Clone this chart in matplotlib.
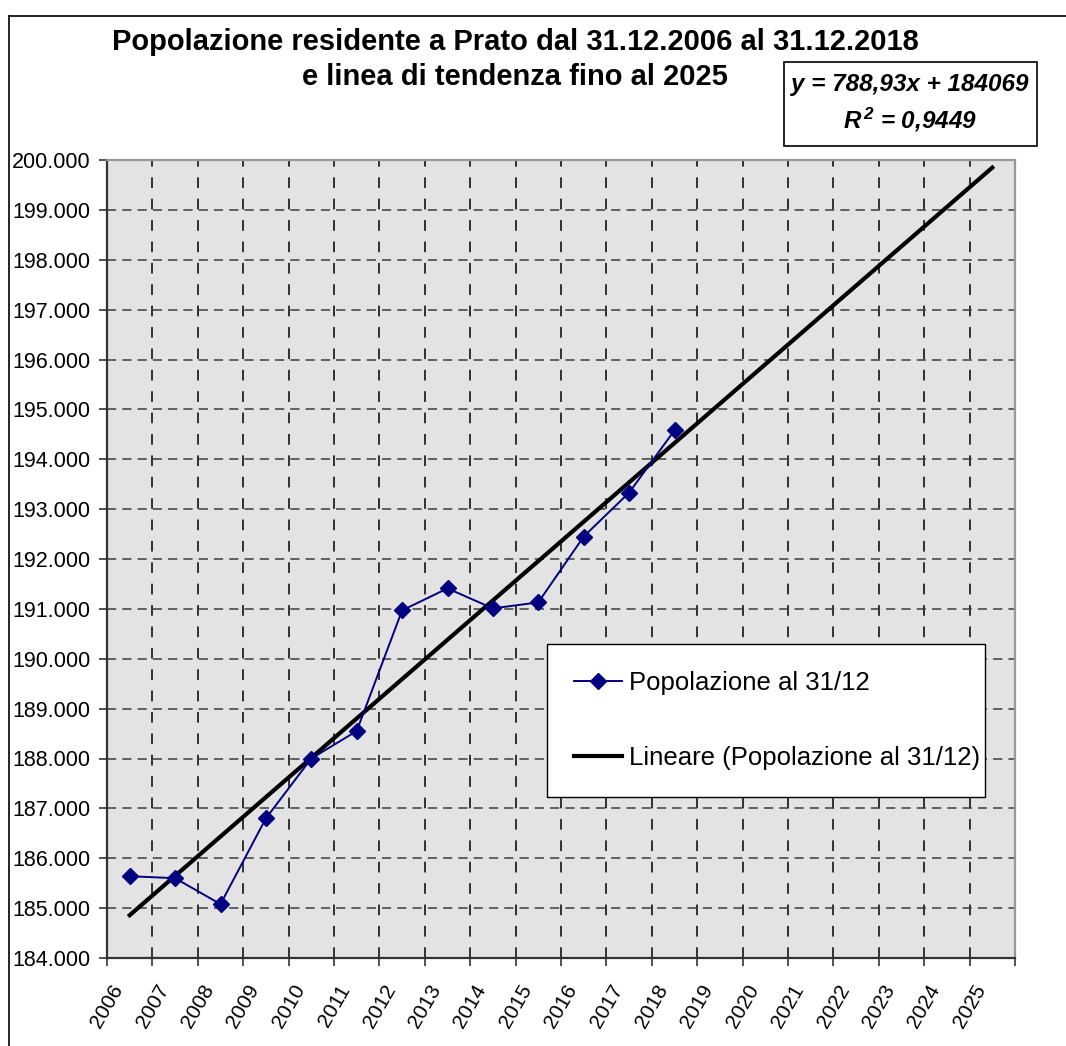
import matplotlib
matplotlib.use("Agg")
import numpy as np
import matplotlib.pyplot as plt
from matplotlib.lines import Line2D
from matplotlib.patches import Rectangle
from matplotlib.ticker import FuncFormatter

plt.rcParams["font.family"] = ["Liberation Sans", "DejaVu Sans"]
plt.rcParams["mathtext.fontset"] = "custom"
plt.rcParams["mathtext.rm"] = "Liberation Sans:bold:italic"
plt.rcParams["mathtext.it"] = "Liberation Sans:bold:italic"
plt.rcParams["mathtext.default"] = "rm"

# ── data ──────────────────────────────────────────────────────────────────────
years = [str(y) for y in range(2006, 2026)]
pop_years = years[:13]                      # 2006 .. 2018
population = [185640, 185600, 185080, 186800, 188000, 188550, 190970,
              191410, 191010, 191130, 192450, 193330, 194580]
slope, intercept = 788.93, 184069           # Excel trend line, x = 1..20

W, H = 1066, 1046
fig = plt.figure(figsize=(W / 100, H / 100), dpi=100)

# plot area in pixels: x 107..1015, y 160..958
L, R, T, B = 107, 1015, 160, 958
ax = fig.add_axes([L / W, 1 - B / H, (R - L) / W, (B - T) / H])
ax.set_facecolor("#E3E3E3")

xpos = np.arange(len(pop_years)) + 0.5
ax.plot(xpos, population, color="#000080", lw=1.4, marker="D", ms=8.5,
        mfc="#000080", mec="#000080", label="Popolazione al 31/12", zorder=4)

n_trend = np.arange(1, len(years) + 1)
ax.plot(n_trend - 0.5, slope * n_trend + intercept, color="black", lw=3,
        label="Lineare (Popolazione al 31/12)", zorder=3)

ax.set_xlim(0, len(years))
ax.set_ylim(184000, 200000)
ax.set_yticks(np.arange(184000, 200001, 1000))
ax.yaxis.set_major_formatter(FuncFormatter(lambda v, _: f"{v:,.0f}".replace(",", ".")))
ax.set_xticks(np.arange(len(years) + 1))
ax.set_xticklabels(years + [""], rotation=60, ha="center")

ax.grid(axis="y", color="#3c3c3c", lw=1.1, ls=(0, (6, 4)))
ax.grid(axis="x", color="black", lw=1.1, ls=(0, (7, 7)))
ax.set_axisbelow(True)
ax.tick_params(axis="both", direction="out", length=6, width=1.2,
               color="#333333")
ax.tick_params(axis="y", labelsize=15.5, pad=6)
ax.tick_params(axis="x", labelsize=15, pad=11)

for side in ("left", "bottom"):
    ax.spines[side].set_color("#333333")
    ax.spines[side].set_linewidth(1.6)
for side in ("top", "right"):
    ax.spines[side].set_color("#999999")
    ax.spines[side].set_linewidth(1.6)

# legend box: x 547..985, y 644..794
lx0 = (547 - L) / (R - L)
lx1 = (985 - L) / (R - L)
ly1 = (B - 644) / (B - T)
leg = ax.legend(loc="upper left", bbox_to_anchor=(lx0, ly1, lx1 - lx0, 0.0),
                mode="expand", fontsize=18.5, frameon=True, fancybox=False,
                edgecolor="black", facecolor="white", framealpha=1,
                borderpad=1.05, labelspacing=2.0, handlelength=1.85,
                handletextpad=0.28, borderaxespad=0)
leg.get_frame().set_linewidth(1.0)

# title
fig.text(515 / W, 1 - 42 / H, "Popolazione residente a Prato dal 31.12.2006 al 31.12.2018",
         ha="center", va="center", fontsize=21, fontweight="bold")
fig.text(515 / W, 1 - 77 / H, "e linea di tendenza fino al 2025",
         ha="center", va="center", fontsize=21, fontweight="bold")

# equation box: x 784..1037, y 62..146
fig.add_artist(Rectangle((784 / W, 1 - 146 / H), (1037 - 784) / W, (146 - 62) / H,
                         transform=fig.transFigure, fill=False, ec="black", lw=1.2))
fig.text(910 / W, 1 - 85 / H, "y = 788,93x + 184069", ha="center", va="center",
         fontsize=17.5, fontweight="bold", fontstyle="italic")
fig.text(910 / W, 1 - 120 / H, r"R$^{\,2}$ = 0,9449", ha="center", va="center",
         fontsize=17.5, fontweight="bold", fontstyle="italic")

# outer chart border (top and left edges visible)
fig.add_artist(Line2D([9 / W, 1], [1 - 16 / H, 1 - 16 / H], transform=fig.transFigure,
                      color="black", lw=1.2))
fig.add_artist(Line2D([9 / W, 9 / W], [0, 1 - 16 / H], transform=fig.transFigure,
                      color="black", lw=1.2))

fig.savefig("out.png", dpi=100)
